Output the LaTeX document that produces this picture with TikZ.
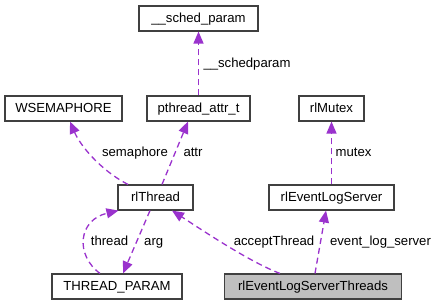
\documentclass[tikz,border=0pt]{standalone}
\usepackage{fontspec}
\setmainfont{Liberation Sans}
\usepackage{tikz}
\usetikzlibrary{arrows.meta,calc}
\definecolor{dpurple}{HTML}{9A32CD}
\definecolor{dgray}{HTML}{BFBFBF}
\definecolor{dframe}{HTML}{404040}

\begin{document}
\begin{tikzpicture}[x=1bp, y=-1bp, font=\fontsize{13.2}{15}\selectfont,
  cls/.style={draw=dframe, line width=1.1bp, fill=white, minimum height=25bp,
    inner sep=0pt, text height=9.6bp, text depth=2.6bp},
  dep/.style={draw=dpurple, line width=1.3bp, dash pattern=on 6bp off 4bp,
    -{Triangle[length=12bp, width=10bp, fill=dpurple]}},
  lbl/.style={anchor=base}]
\useasboundingbox (0,0) rectangle (439,305);
% classes
\node[cls, minimum width=119bp] (sched) at (198.5,18.5) {\_\_sched\_param};
\node[cls, minimum width=117bp] (wsem) at (63.5,108.5) {WSEMAPHORE};
\node[cls, minimum width=103bp] (pattr) at (198.5,108.5) {pthread\_attr\_t};
\node[cls, minimum width=65bp] (mutex) at (331.5,108.5) {rlMutex};
\node[cls, minimum width=75bp] (thread) at (155.5,197.5) {rlThread};
\node[cls, minimum width=125bp] (server) at (331.5,197.5) {rlEventLogServer};
\node[cls, minimum width=130bp] (param) at (117,286.5) {THREAD\_PARAM};
\node[cls, minimum width=177bp, fill=dgray] (threads) at (313,286.5) {rlEventLogServerThreads};
% members
\draw[dep] (pattr.north) -- (sched.south);
\node[lbl] at (247,67) {\_\_schedparam};
\draw[dep] ($(thread.north)+(-27.5,0)$) .. controls (100,170) and (80,145) .. ($(wsem.south)+(6.5,0)$);
\node[lbl] at (135,156) {semaphore};
\draw[dep] ($(thread.north)+(6.5,0)$) -- ($(pattr.south)+(-10.5,0)$);
\node[lbl] at (193,156) {attr};
\draw[dep] (server.north) -- (mutex.south);
\node[lbl] at (353.5,156) {mutex};
\draw[dep] ($(param.north)+(-17,0)$) .. controls (75,255) and (78,220) .. ($(thread.south west)+(1,0)$);
\node[lbl] at (109.5,245) {thread};
\draw[dep] ($(thread.south)+(-5.5,0)$) -- ($(param.north)+(6,0)$);
\node[lbl] at (153.7,245) {arg};
\draw[dep] ($(threads.north)+(-33,0)$) .. controls (250,262) and (205,232) .. ($(thread.south)+(16.5,0)$);
\node[lbl] at (274,245) {acceptThread};
\draw[dep] ($(threads.north)+(2,0)$) -- ($(server.south)+(-5.5,0)$);
\node[lbl] at (380.5,245) {event\_log\_server};
\end{tikzpicture}
\end{document}
